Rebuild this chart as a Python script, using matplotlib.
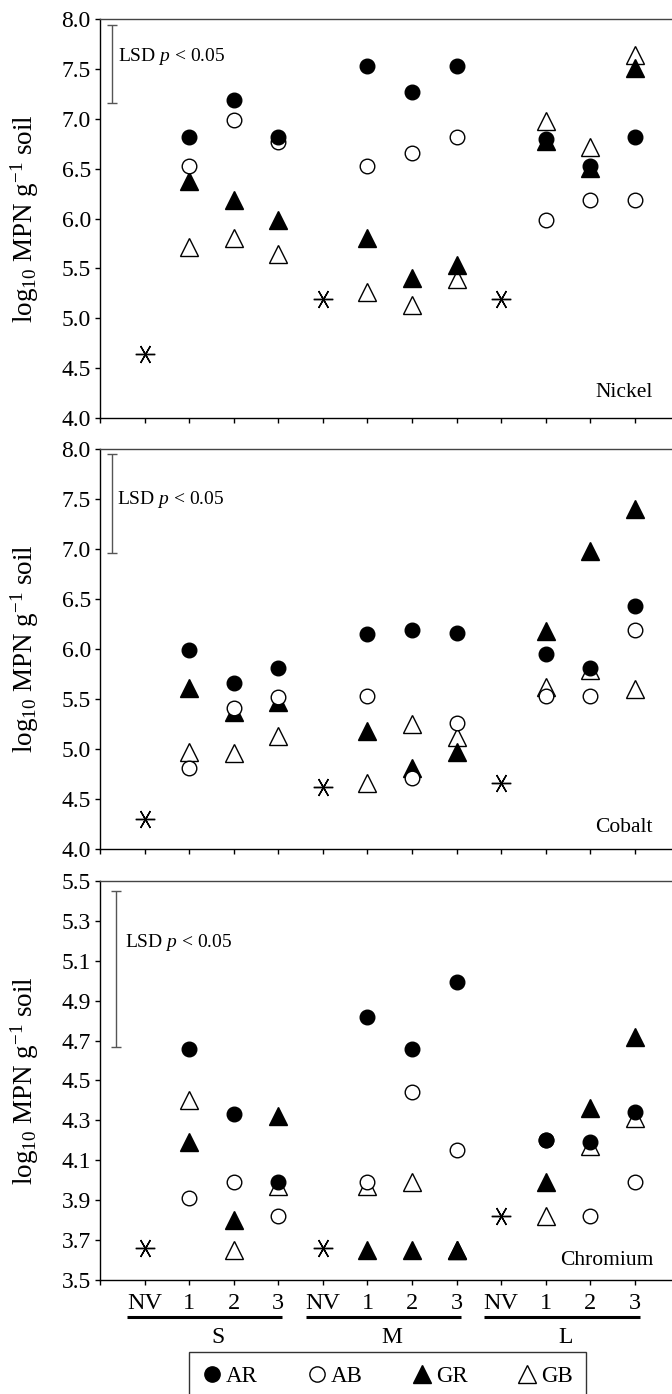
import numpy as np
import matplotlib.pyplot as plt
from matplotlib.lines import Line2D

plt.rcParams['font.family'] = ['Liberation Serif', 'DejaVu Serif']
plt.rcParams['mathtext.fontset'] = 'custom'
plt.rcParams['mathtext.rm'] = 'Liberation Serif'
plt.rcParams['mathtext.it'] = 'Liberation Serif:italic'

# x positions: NV controls and the three treatments of each group
x_nv = [1, 5, 9]
x_trt = [2, 3, 4, 6, 7, 8, 10, 11, 12]
tick_labels = ['', 'NV', '1', '2', '3', 'NV', '1', '2', '3', 'NV', '1', '2', '3']
groups = ['S', 'M', 'L']
group_x = [2.64, 6.54, 10.44]
group_span = [(0.6, 4.09), (4.61, 8.09), (8.62, 12.12)]

# Nickel
ni_ar = [6.82, 7.19, 6.82, 7.53, 7.27, 7.53, 6.80, 6.53, 6.82]
ni_ab = [6.53, 6.99, 6.77, 6.53, 6.66, 6.82, 5.99, 6.19, 6.19]
ni_gr = [6.38, 6.19, 5.99, 5.81, 5.40, 5.53, 6.78, 6.51, 7.51]
ni_gb = [5.72, 5.81, 5.64, 5.26, 5.13, 5.39, 6.98, 6.72, 7.64]
ni_nv = [4.64, 5.19, 5.19]
ni_lsd = (7.16, 7.94)

# Cobalt
co_ar = [5.99, 5.66, 5.81, 6.15, 6.19, 6.16, 5.95, 5.81, 6.43]
co_ab = [4.81, 5.41, 5.52, 5.53, 4.71, 5.26, 5.53, 5.53, 6.19]
co_gr = [5.61, 5.37, 5.47, 5.18, 4.81, 4.97, 6.18, 6.98, 7.40]
co_gb = [4.97, 4.96, 5.13, 4.66, 5.25, 5.12, 5.62, 5.79, 5.60]
co_nv = [4.30, 4.62, 4.66]
co_lsd = (6.96, 7.95)

# Chromium
cr_ar = [4.66, 4.33, 3.99, 4.82, 4.66, 4.995, 4.20, 4.19, 4.34]
cr_ab = [3.91, 3.99, 3.82, 3.99, 4.44, 4.15, 4.20, 3.82, 3.99]
cr_gr = [4.19, 3.80, 4.32, 3.65, 3.65, 3.65, 3.99, 4.36, 4.72]
cr_gb = [4.40, 3.65, 3.97, 3.97, 3.99, 3.65, 3.82, 4.17, 4.31]
cr_nv = [3.66, 3.66, 3.82]
cr_lsd = (4.67, 5.45)

panels = [
    dict(name='Nickel', ar=ni_ar, ab=ni_ab, gr=ni_gr, gb=ni_gb, nv=ni_nv, lsd=ni_lsd,
         ylim=(4.0, 8.0), yticks=np.arange(4.0, 8.01, 0.5), rect=[0.1488, 0.7001, 0.8512, 0.2862],
         lsd_x=0.28, lsd_tx=0.40, lsd_ty=0.907, name_y=0.063),
    dict(name='Cobalt', ar=co_ar, ab=co_ab, gr=co_gr, gb=co_gb, nv=co_nv, lsd=co_lsd,
         ylim=(4.0, 8.0), yticks=np.arange(4.0, 8.01, 0.5), rect=[0.1488, 0.3910, 0.8512, 0.2869],
         lsd_x=0.28, lsd_tx=0.39, lsd_ty=0.873, name_y=0.053),
    dict(name='Chromium', ar=cr_ar, ab=cr_ab, gr=cr_gr, gb=cr_gb, nv=cr_nv, lsd=cr_lsd,
         ylim=(3.5, 5.5), yticks=np.arange(3.5, 5.51, 0.2), rect=[0.1488, 0.0818, 0.8512, 0.2862],
         lsd_x=0.37, lsd_tx=0.56, lsd_ty=0.845, name_y=0.05),
]

fig = plt.figure(figsize=(6.72, 13.94), dpi=100)

for i, p in enumerate(panels):
    ax = fig.add_axes(p['rect'])
    # draw order: triangles under circles
    ax.plot(x_trt, p['gb'], ls='none', marker='^', ms=12.5, mfc='white', mec='black', mew=1.0, zorder=3)
    ax.plot(x_trt, p['gr'], ls='none', marker='^', ms=12.5, mfc='black', mec='black', mew=1.0, zorder=4)
    ax.plot(x_trt, p['ab'], ls='none', marker='o', ms=10.5, mfc='white', mec='black', mew=1.0, zorder=5)
    ax.plot(x_trt, p['ar'], ls='none', marker='o', ms=10.5, mfc='black', mec='black', mew=1.0, zorder=6)
    ax.plot(x_nv, p['nv'], ls='none', marker=(6, 2, 90), ms=14, mec='black', mew=1.0, zorder=5)

    lo, hi = p['lsd']
    ax.errorbar([p['lsd_x']], [(lo + hi) / 2], yerr=[(hi - lo) / 2], fmt='none',
                ecolor='#555555', elinewidth=1.0, capsize=3.6, capthick=1.0)
    ax.text(p['lsd_tx'], p['lsd_ty'], 'LSD $p$ < 0.05', transform=ax.get_xaxis_transform(),
            fontsize=14, va='center', ha='left')
    ax.text(0.967, p['name_y'], p['name'], transform=ax.transAxes, fontsize=15.5,
            ha='right', va='center')

    ax.set_xlim(0, 12.83)
    ax.set_ylim(*p['ylim'])
    ax.set_yticks(p['yticks'])
    ax.set_yticklabels(['%.1f' % v for v in p['yticks']])
    ax.set_xticks(range(13))
    ax.spines['right'].set_visible(False)
    for s in ['left', 'bottom', 'top']:
        ax.spines[s].set_linewidth(1.0)
    ax.spines['top'].set_color('#444444')
    ax.tick_params(axis='both', direction='out', length=3.6, width=1.0, labelsize=17, pad=3)
    ax.set_ylabel('log$_{10}$ MPN g$^{\\mathregular{-1}}$ soil', fontsize=19.5)
    ax.yaxis.set_label_coords(-0.104, 0.5)

    if i < 2:
        ax.set_xticklabels([])
    else:
        ax.set_xticklabels(tick_labels, fontsize=17.5)
        ax.tick_params(axis='x', pad=6)
        tr = ax.get_xaxis_transform()
        for g, gx, (x0, x1) in zip(groups, group_x, group_span):
            ax.plot([x0, x1], [-0.0927, -0.0927], color='black', lw=2.2, transform=tr,
                    clip_on=False, solid_capstyle='butt')
            ax.text(gx, -0.143, g, transform=tr, fontsize=17, ha='center', va='center')

handles = [
    Line2D([], [], ls='none', marker='o', ms=11, mfc='black', mec='black', label='AR'),
    Line2D([], [], ls='none', marker='o', ms=11, mfc='white', mec='black', label='AB'),
    Line2D([], [], ls='none', marker='^', ms=13, mfc='black', mec='black', label='GR'),
    Line2D([], [], ls='none', marker='^', ms=13, mfc='white', mec='black', label='GB'),
]
leg = fig.legend(handles=handles, ncol=4, loc='upper left',
                 bbox_to_anchor=(189 / 672, 1 - 1352 / 1394), fontsize=16.5,
                 frameon=True, fancybox=False, edgecolor='black', borderpad=0.6,
                 handlelength=0.8, handletextpad=0.2, columnspacing=2.2,
                 borderaxespad=0)
leg.get_frame().set_linewidth(1.0)

fig.savefig('out.png', dpi=100)
